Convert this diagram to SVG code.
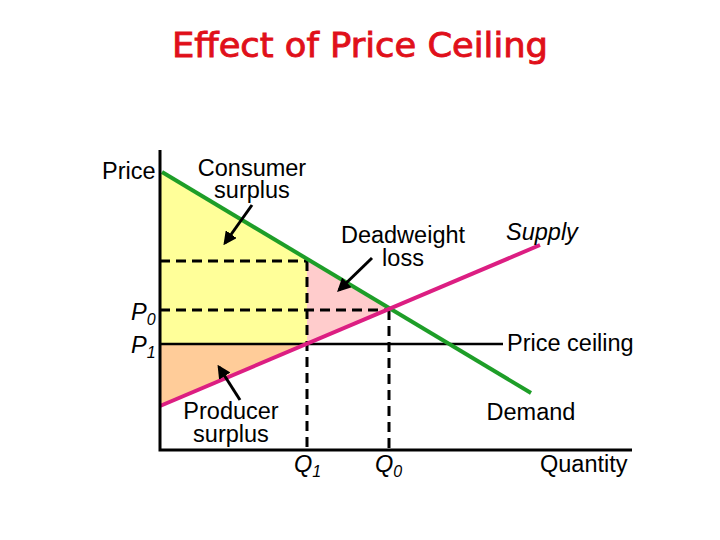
<svg xmlns="http://www.w3.org/2000/svg" width="720" height="540" viewBox="0 0 720 540">
<defs>
<style>
.t{font-family:"Liberation Sans",Arial,sans-serif;font-size:23.5px;fill:#000}
.i{font-style:italic}
.title{font-family:"DejaVu Sans","Liberation Sans",sans-serif;font-size:34px;fill:#E0101A;stroke:#E0101A;stroke-width:0.9}
.dash{stroke:#000;stroke-width:3;stroke-dasharray:10 6;fill:none}
.ax{stroke:#000;stroke-width:3;fill:none}
.arr{stroke:#000;stroke-width:3;fill:none;marker-end:url(#ah)}
</style>
<marker id="ah" viewBox="0 0 10 10" refX="8" refY="5" markerWidth="4.5" markerHeight="4.5" orient="auto">
<path d="M0,0 L10,5 L0,10 z" fill="#000"/>
</marker>
</defs>
<rect width="720" height="540" fill="#fff"/>
<text class="title" x="360" y="57" text-anchor="middle" textLength="376" lengthAdjust="spacingAndGlyphs">Effect of Price Ceiling</text>
<g id="areas">
<polygon points="160,172 307,260 307,344 160,344" fill="#FFFF99"/>
<polygon points="307,260 389,309 307,344" fill="#FFCCCC"/>
<polygon points="160,344 307,344 160,406" fill="#FFCC99"/>
</g>
<g id="connectors">
<line class="dash" x1="160" y1="261" x2="307" y2="261"/>
<line class="dash" x1="307" y1="261" x2="307" y2="450"/>
<line class="dash" x1="160" y1="310" x2="389" y2="310"/>
<line class="dash" x1="389" y1="310" x2="389" y2="450"/>
<line stroke="#000" stroke-width="2.5" x1="160" y1="344" x2="503" y2="344"/>
<line id="demand" stroke="#1E9E28" stroke-width="4" x1="162" y1="172" x2="531" y2="393"/>
<line id="supply" stroke="#DC1E82" stroke-width="4" x1="160" y1="406" x2="540" y2="245"/>
<line class="arr" x1="252" y1="205" x2="225" y2="243"/>
<line class="arr" x1="372" y1="258" x2="339" y2="290"/>
<line class="arr" x1="240" y1="400" x2="219" y2="367"/>
</g>
<g id="axes">
<polyline class="ax" points="160,150 160,450 632,450"/>
</g>
<g id="labels">
<text class="t" x="102" y="179">Price</text>
<text class="t" x="252" y="176" text-anchor="middle">Consumer</text>
<text class="t" x="252" y="198" text-anchor="middle">surplus</text>
<text class="t" x="403" y="243" text-anchor="middle">Deadweight</text>
<text class="t" x="403" y="266" text-anchor="middle">loss</text>
<text class="t i" x="506" y="240">Supply</text>
<text class="t i" x="131" y="320">P<tspan font-size="16" dy="5">0</tspan></text>
<text class="t i" x="131" y="353">P<tspan font-size="16" dy="5">1</tspan></text>
<text class="t" x="507" y="351">Price ceiling</text>
<text class="t" x="231" y="419" text-anchor="middle">Producer</text>
<text class="t" x="231" y="442" text-anchor="middle">surplus</text>
<text class="t" x="531" y="420" text-anchor="middle">Demand</text>
<text class="t i" x="294" y="472">Q<tspan font-size="16" dy="5">1</tspan></text>
<text class="t i" x="375" y="472">Q<tspan font-size="16" dy="5">0</tspan></text>
<text class="t" x="540" y="472">Quantity</text>
</g>
</svg>
